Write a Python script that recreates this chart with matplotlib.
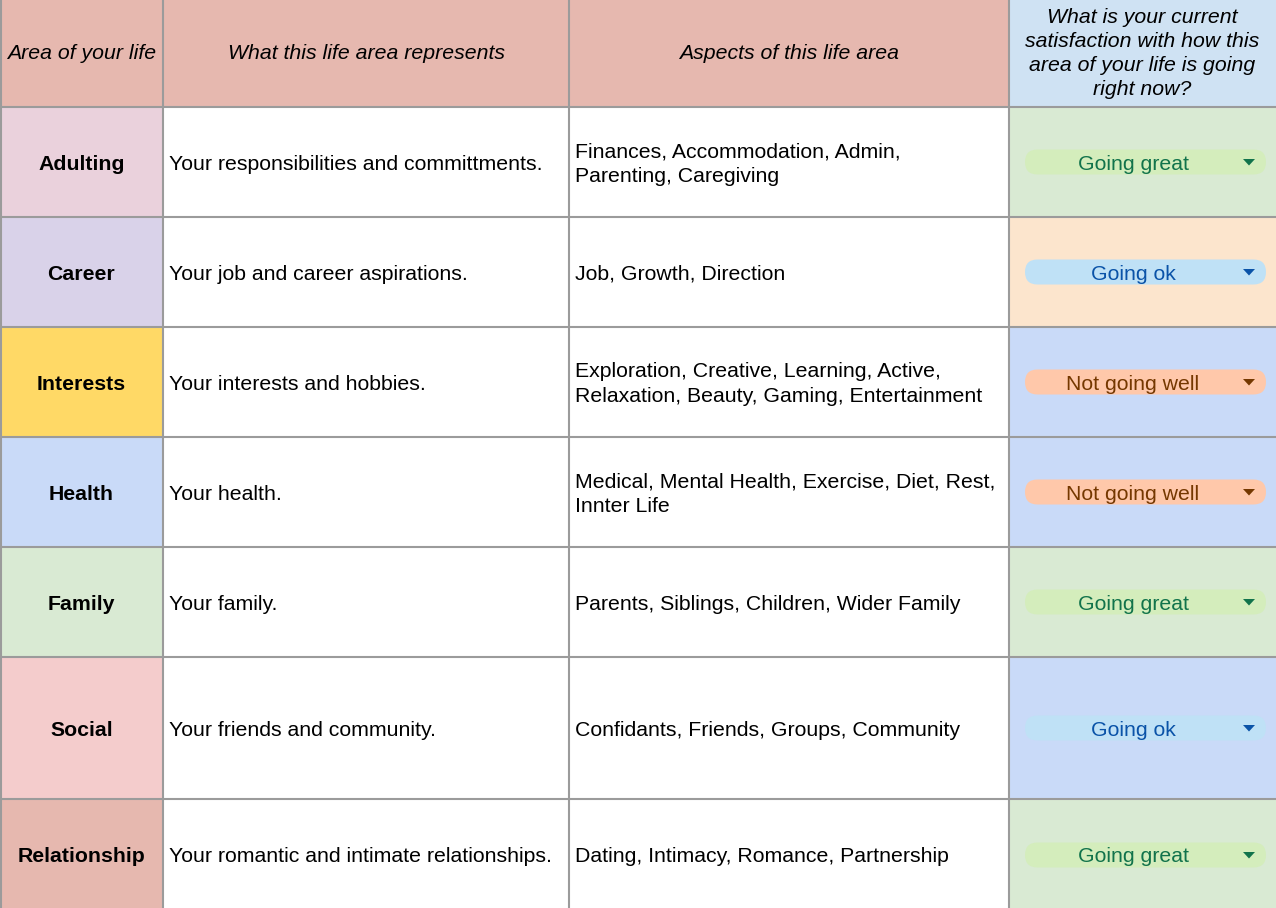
import matplotlib
matplotlib.use("Agg")
import matplotlib.pyplot as plt
from matplotlib.patches import Rectangle, FancyBboxPatch, Polygon

plt.rcParams['font.family'] = ['Liberation Sans', 'DejaVu Sans']

# ---- data ----
headers = [
    "Area of your life",
    "What this life area represents",
    "Aspects of this life area",
    "What is your current\nsatisfaction with how this\narea of your life is going\nright now?",
]
areas = ["Adulting", "Career", "Interests", "Health", "Family", "Social", "Relationship"]
descriptions = [
    "Your responsibilities and committments.",
    "Your job and career aspirations.",
    "Your interests and hobbies.",
    "Your health.",
    "Your family.",
    "Your friends and community.",
    "Your romantic and intimate relationships.",
]
aspects = [
    "Finances, Accommodation, Admin,\nParenting, Caregiving",
    "Job, Growth, Direction",
    "Exploration, Creative, Learning, Active,\nRelaxation, Beauty, Gaming, Entertainment",
    "Medical, Mental Health, Exercise, Diet, Rest,\nInnter Life",
    "Parents, Siblings, Children, Wider Family",
    "Confidants, Friends, Groups, Community",
    "Dating, Intimacy, Romance, Partnership",
]
satisfaction = ["Going great", "Going ok", "Not going well", "Not going well",
                "Going great", "Going ok", "Going great"]

# ---- styles ----
area_colors = ["#ead1dc", "#d9d2e9", "#ffd966", "#c9daf8", "#d9ead3", "#f4cccc", "#e6b8af"]
sat_cell_colors = ["#d9ead3", "#fce5cd", "#c9daf8", "#c9daf8", "#d9ead3", "#c9daf8", "#d9ead3"]
chip_style = {
    "Going great": ("#d4edbc", "#11734b"),
    "Going ok": ("#bfe1f6", "#0a53a8"),
    "Not going well": ("#ffc8aa", "#753800"),
}
header_colors = ["#e6b8af", "#e6b8af", "#e6b8af", "#cfe2f3"]

W, H = 1276, 908
col_x = [0, 163, 569, 1009, 1276]
row_y = [0, 107, 217, 327, 437, 547, 657, 799, 911]
grid_color = "#9b9b9b"
fs = 15.3

fig = plt.figure(figsize=(W / 100, H / 100), dpi=100)
ax = fig.add_axes([0, 0, 1, 1])
ax.set_xlim(0, W)
ax.set_ylim(H, 0)
ax.axis("off")

# header
for j in range(4):
    x0, x1 = col_x[j], col_x[j + 1]
    ax.add_patch(Rectangle((x0, row_y[0]), x1 - x0, row_y[1] - row_y[0],
                           facecolor=header_colors[j], edgecolor="none"))
    ax.text((x0 + x1) / 2, (row_y[0] + row_y[1]) / 2, headers[j], ha="center", va="center",
            fontsize=fs, style="italic", color="#000000", linespacing=1.33)

for i in range(len(areas)):
    y0, y1 = row_y[i + 1], row_y[i + 2]
    yc = (y0 + min(y1, 911)) / 2
    # col 0
    ax.add_patch(Rectangle((col_x[0], y0), col_x[1] - col_x[0], y1 - y0,
                           facecolor=area_colors[i], edgecolor="none"))
    ax.text((col_x[0] + col_x[1]) / 2, yc + 2, areas[i], ha="center", va="center",
            fontsize=fs, fontweight="bold", color="#000000")
    # col 1
    ax.add_patch(Rectangle((col_x[1], y0), col_x[2] - col_x[1], y1 - y0,
                           facecolor="white", edgecolor="none"))
    ax.text(col_x[1] + 6, yc + 2, descriptions[i], ha="left", va="center",
            fontsize=fs, color="#000000")
    # col 2
    ax.add_patch(Rectangle((col_x[2], y0), col_x[3] - col_x[2], y1 - y0,
                           facecolor="white", edgecolor="none"))
    ax.text(col_x[2] + 6, yc + 2, aspects[i], ha="left", va="center",
            fontsize=fs, color="#000000", linespacing=1.36)
    # col 3
    ax.add_patch(Rectangle((col_x[3], y0), col_x[4] - col_x[3], y1 - y0,
                           facecolor=sat_cell_colors[i], edgecolor="none"))
    bg, fg = chip_style[satisfaction[i]]
    cx0, cx1, ch = 1025, 1266, 25
    ax.add_patch(FancyBboxPatch((cx0, yc - ch / 2), cx1 - cx0, ch,
                                boxstyle="round,pad=0,rounding_size=12.5",
                                facecolor=bg, edgecolor="none"))
    ax.text(1133, yc + 2, satisfaction[i], ha="center", va="center",
            fontsize=fs, color=fg)
    tx = 1249
    ax.add_patch(Polygon([[tx - 6, yc - 3], [tx + 6, yc - 3], [tx, yc + 3.5]],
                         closed=True, facecolor=fg, edgecolor="none"))

# grid lines
for x in col_x[:-1]:
    xx = 1 if x == 0 else x
    ax.plot([xx, xx], [0, H], color=grid_color, lw=1.5, solid_capstyle="butt")
for y in row_y[1:-1]:
    ax.plot([0, W], [y, y], color=grid_color, lw=1.5, solid_capstyle="butt")

fig.savefig("out.png", dpi=100)
